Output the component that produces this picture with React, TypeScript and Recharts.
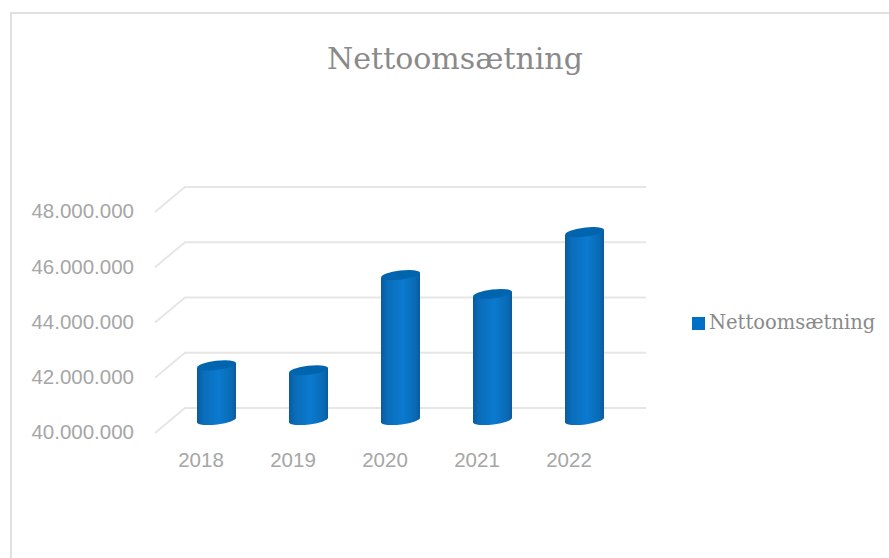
import { Bar, BarChart, CartesianGrid, Legend, XAxis, YAxis } from "recharts";

const years = ["2018", "2019", "2020", "2021", "2022"];
const revenue = [41980000, 41800000, 45250000, 44560000, 46800000];
const yTicks = [40000000, 42000000, 44000000, 46000000, 48000000];

const chartData = years.map((year, i) => ({ year, Nettoomsætning: revenue[i] }));

const sansFont = "'Liberation Sans', sans-serif";
const slabFont = "'DejaVu Serif', serif";

const formatNumber = (v: number) =>
  String(v).replace(/\B(?=(\d{3})+(?!\d))/g, ".");

// the fake 3d wall: a diagonal stub from the label and the line on the back wall
const WallLine = (props: any) => {
  const { y1 } = props;
  return (
    <path
      d={`M155 ${y1 + 13} L185 ${y1 - 12} L646 ${y1 - 12}`}
      fill="none"
      stroke="#e6e6e6"
      strokeWidth={2}
    />
  );
};

const Cylinder = (props: any) => {
  const { x, y, width, height } = props;
  const rx = width / 2;
  const tilt = 2.5;
  const bottom = y + height;
  const right = x + width;
  return (
    <g>
      <path
        d={`M${x} ${y + tilt} L${x} ${bottom + tilt}
            A${rx} 4.5 -7 0 0 ${right} ${bottom - tilt}
            L${right} ${y - tilt} Z`}
        fill="url(#cylinderFill)"
      />
      <ellipse
        cx={x + rx}
        cy={y}
        rx={rx}
        ry={4.5}
        fill="#0064ae"
        transform={`rotate(-7 ${x + rx} ${y})`}
      />
    </g>
  );
};

export default function App() {
  return (
    <div
      style={{
        position: "fixed",
        left: 0,
        top: 0,
        width: 889,
        height: 558,
        background: "#fff",
      }}
    >
      <div
        style={{
          position: "absolute",
          left: 10,
          top: 12,
          right: 0,
          bottom: 0,
          borderLeft: "2px solid #e0e0e0",
          borderTop: "2px solid #e0e0e0",
        }}
      />
      <BarChart
        width={889}
        height={558}
        data={chartData}
        margin={{ top: 199, right: 62, bottom: 108, left: 0 }}
        style={{ position: "absolute", left: 0, top: 0 }}
      >
        <defs>
          <linearGradient id="cylinderFill" x1="0" y1="0" x2="1" y2="0">
            <stop offset="0%" stopColor="#0a5a9e" />
            <stop offset="15%" stopColor="#0a6cb8" />
            <stop offset="55%" stopColor="#0a7ad0" />
            <stop offset="88%" stopColor="#0a6ab4" />
            <stop offset="100%" stopColor="#0a5a9e" />
          </linearGradient>
        </defs>
        <text
          x={455}
          y={61}
          textAnchor="middle"
          dominantBaseline="middle"
          fontSize={30}
          fontFamily={slabFont}
          fill="#8a8a8a"
        >
          Nettoomsætning
        </text>
        <CartesianGrid vertical={false} horizontal={<WallLine />} />
        <YAxis
          width={170}
          domain={[40000000, 48000000]}
          ticks={yTicks}
          axisLine={false}
          tickLine={false}
          interval={0}
          tickFormatter={formatNumber}
          tick={{
            fontSize: 20.5,
            fontFamily: sansFont,
            fill: "#a6a6a6",
            dx: -28,
            dy: 12,
          }}
        />
        <XAxis
          dataKey="year"
          height={30}
          axisLine={false}
          tickLine={false}
          tick={{ fontSize: 20.5, fontFamily: sansFont, fill: "#a6a6a6" }}
          tickMargin={26}
          dx={-15}
        />
        <Bar
          dataKey="Nettoomsætning"
          fill="#0070c6"
          barSize={39}
          shape={<Cylinder />}
          isAnimationActive={false}
        />
        <Legend
          layout="vertical"
          align="right"
          verticalAlign="middle"
          width={190}
          iconType="square"
          iconSize={13}
          wrapperStyle={{ left: 692, top: 311, width: 197, whiteSpace: "nowrap", fontFamily: slabFont, fontSize: 19.5 }}
          formatter={(value: string) => <span style={{ color: "#8a8a8a", whiteSpace: "nowrap" }}>{value}</span>}
        />
      </BarChart>
    </div>
  );
}
